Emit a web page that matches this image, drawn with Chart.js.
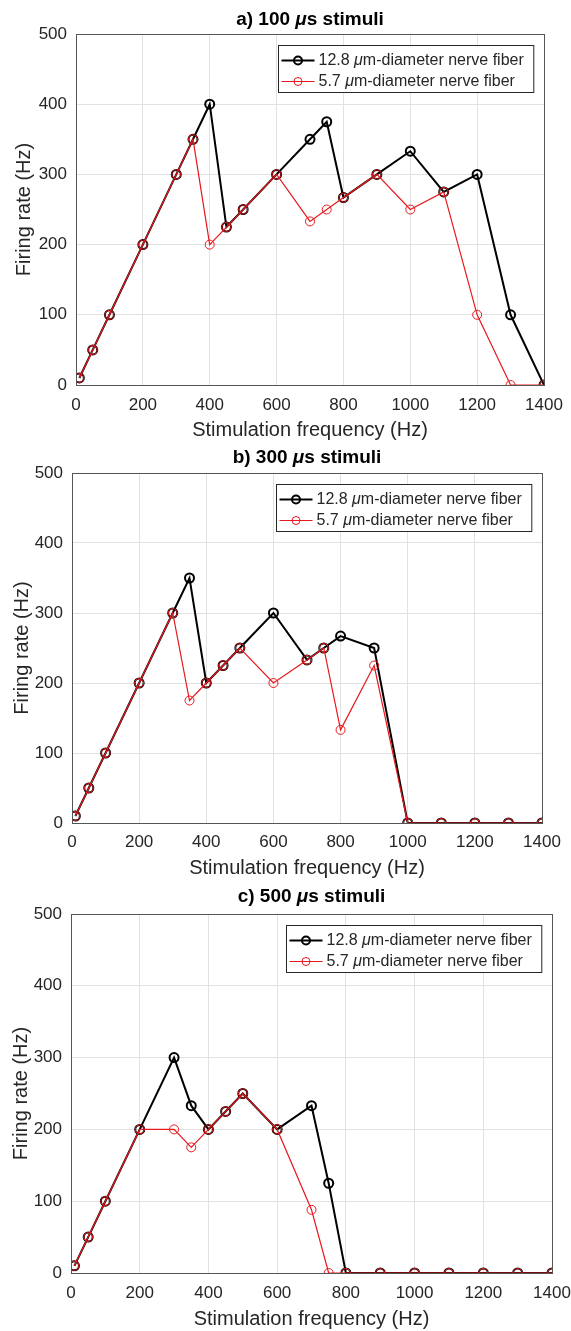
<!DOCTYPE html>
<html>
<head>
<meta charset="utf-8">
<script src="https://cdn.jsdelivr.net/npm/chart.js@4.4.1/dist/chart.umd.min.js"></script>
<style>
  body { margin: 0; background: #fff; width: 571px; height: 1331px; position: relative; overflow: hidden; }
  canvas { position: absolute; left: 0; }
</style>
</head>
<body>
<canvas id="chartA" width="571" height="445" style="top:0px"></canvas>
<canvas id="chartB" width="571" height="445" style="top:440px"></canvas>
<canvas id="chartC" width="571" height="451" style="top:880px"></canvas>
<script>
// Stimulation frequencies (Hz), shared by all three panels
const freqs = [10, 50, 100, 200, 300, 350, 400, 450, 500, 600, 700, 750, 800, 900, 1000, 1100, 1200, 1300, 1400];

// a) 100 us stimuli
const thickA = [10, 50, 100, 200, 300, 350, 400, 225, 250, 300, 350, 375, 267, 300, 333, 275, 300, 100, 0];
const thinA  = [10, 50, 100, 200, 300, 350, 200, 225, 250, 300, 233, 250, 267, 300, 250, 275, 100, 0, 0];

// b) 300 us stimuli
const thickB = [10, 50, 100, 200, 300, 350, 200, 225, 250, 300, 233, 250, 267, 250, 0, 0, 0, 0, 0];
const thinB  = [10, 50, 100, 200, 300, 175, 200, 225, 250, 200, 233, 250, 133, 225, 0, 0, 0, 0, 0];

// c) 500 us stimuli
const thickC = [10, 50, 100, 200, 300, 233, 200, 225, 250, 200, 233, 125, 0, 0, 0, 0, 0, 0, 0];
const thinC  = [10, 50, 100, 200, 200, 175, 200, 225, 250, 200, 88, 0, 0, 0, 0, 0, 0, 0, 0];

const xTicks = [0, 200, 400, 600, 800, 1000, 1200, 1400];
const yTicks = [0, 100, 200, 300, 400, 500];

const seriesNames = ['12.8 \u03bcm-diameter nerve fiber', '5.7 \u03bcm-diameter nerve fiber'];

const FONT = '"Liberation Sans", Arial, Helvetica, sans-serif';
const TEXT = '#262626';
const RED = '#e8191e';

// draws a string with the greek mu in italic, starting at x
function mixedText(ctx, str, x, y, base, italic) {
    const p = str.split('\u03bc');
    ctx.font = base;
    ctx.fillText(p[0], x, y);
    x += ctx.measureText(p[0]).width;
    ctx.font = italic;
    ctx.fillText('\u03bc', x, y);
    x += ctx.measureText('\u03bc').width;
    ctx.font = base;
    ctx.fillText(p[1], x, y);
}
function mixedWidth(ctx, str, base, italic) {
    const p = str.split('\u03bc');
    ctx.font = base;
    let w = ctx.measureText(p[0]).width + ctx.measureText(p[1]).width;
    ctx.font = italic;
    return w + ctx.measureText('\u03bc').width;
}

// title over the axes, box round the plot area, legend in the upper right
const boxAndLegend = {
    id: 'boxAndLegend',
    afterDraw(chart, args, opts) {
        const ctx = chart.ctx;
        const ca = chart.chartArea;
        ctx.save();

        // title centred on the plot area
        const tBase = 'bold 19px ' + FONT, tIt = 'italic bold 19px ' + FONT;
        const tw = mixedWidth(ctx, opts.title, tBase, tIt);
        ctx.fillStyle = '#000';
        ctx.textBaseline = 'middle';
        ctx.textAlign = 'left';
        mixedText(ctx, opts.title, (ca.left + ca.right) / 2 - tw / 2, opts.titleY, tBase, tIt);

        ctx.strokeStyle = '#555';
        ctx.lineWidth = 1;
        ctx.strokeRect(Math.round(ca.left) + 0.5, Math.round(ca.top) + 0.5,
                       Math.round(ca.right - ca.left), Math.round(ca.bottom - ca.top));

        // legend
        const lBase = '16px ' + FONT, lIt = 'italic 16px ' + FONT;
        const widths = seriesNames.map(s => mixedWidth(ctx, s, lBase, lIt));
        const w = 3 + 36 + 4 + Math.max(...widths) + 7;
        const h = 47;
        const x0 = Math.round(ca.right - 11 - w) + 0.5;
        const y0 = Math.round(ca.top + 11) + 0.5;
        ctx.fillStyle = '#fff';
        ctx.fillRect(x0, y0, w, h);
        ctx.strokeStyle = TEXT;
        ctx.strokeRect(x0, y0, w, h);

        const styles = [
            { color: '#000', lw: 2 },
            { color: RED, lw: 1 }
        ];
        [15, 36].forEach((dy, i) => {
            const y = y0 + dy;
            ctx.strokeStyle = styles[i].color;
            ctx.lineWidth = styles[i].lw;
            ctx.beginPath();
            ctx.moveTo(x0 + 3, y);
            ctx.lineTo(x0 + 36, y);
            ctx.stroke();
            ctx.beginPath();
            ctx.arc(x0 + 19.5, y, 4, 0, Math.PI * 2);
            ctx.stroke();

            ctx.fillStyle = TEXT;
            ctx.textBaseline = 'middle';
            ctx.textAlign = 'left';
            mixedText(ctx, seriesNames[i], x0 + 40, y, lBase, lIt);
        });
        ctx.restore();
    }
};

function makePanel(cfg) {
    const el = document.getElementById(cfg.id);
    const H = el.height;
    const tickSize = 17, tickLH = tickSize * 1.2;
    const axisSize = 20, axisLH = axisSize * 1.2;

    return new Chart(el, {
        type: 'line',
        data: {
            datasets: [
                {
                    label: seriesNames[0],
                    data: freqs.map((f, i) => ({ x: f, y: cfg.thick[i] })),
                    borderColor: '#000',
                    borderWidth: 2,
                    pointRadius: 4.5,
                    pointBorderWidth: 2,
                    pointBorderColor: '#000',
                    pointBackgroundColor: 'rgba(0,0,0,0)',
                    tension: 0,
                    order: 1
                },
                {
                    label: seriesNames[1],
                    data: freqs.map((f, i) => ({ x: f, y: cfg.thin[i] })),
                    borderColor: RED,
                    borderWidth: 1.2,
                    pointRadius: 4.5,
                    pointBorderWidth: 1,
                    pointBorderColor: RED,
                    pointBackgroundColor: 'rgba(0,0,0,0)',
                    tension: 0,
                    order: 0
                }
            ]
        },
        options: {
            responsive: false,
            animation: false,
            layout: { padding: { left: 0, top: cfg.top, bottom: 0, right: 571 - cfg.right } },
            plugins: {
                legend: { display: false },
                tooltip: { enabled: false },
                title: { display: false },
                boxAndLegend: { title: cfg.title, titleY: cfg.titleY }
            },
            scales: {
                x: {
                    type: 'linear',
                    min: 0,
                    max: 1400,
                    afterBuildTicks: s => { s.ticks = xTicks.map(v => ({ value: v })); },
                    afterFit: s => { s.height = H - cfg.bottom; s.paddingLeft = 0; s.paddingRight = 0; },
                    grid: { color: '#e1e1e1', drawTicks: false },
                    border: { display: false },
                    ticks: {
                        color: TEXT,
                        maxRotation: 0,
                        padding: cfg.tickY - cfg.bottom - tickLH / 2,
                        font: { family: FONT, size: tickSize, lineHeight: 1.2 },
                        callback: v => String(v)
                    },
                    title: {
                        display: true,
                        text: 'Stimulation frequency (Hz)',
                        color: TEXT,
                        font: { family: FONT, size: axisSize, lineHeight: 1.2 },
                        padding: { top: 0, bottom: Math.max(0, H - cfg.xTitleY - axisLH / 2) }
                    }
                },
                y: {
                    type: 'linear',
                    min: 0,
                    max: 500,
                    afterBuildTicks: s => { s.ticks = yTicks.map(v => ({ value: v })); },
                    afterFit: s => { s.width = cfg.left; s.paddingTop = 0; s.paddingBottom = 0; },
                    grid: { color: '#e1e1e1', drawTicks: false },
                    border: { display: false },
                    ticks: {
                        color: TEXT,
                        padding: 9,
                        font: { family: FONT, size: tickSize, lineHeight: 1.2 },
                        callback: v => String(v)
                    },
                    title: {
                        display: true,
                        text: 'Firing rate (Hz)',
                        color: TEXT,
                        font: { family: FONT, size: axisSize, lineHeight: 1.2 },
                        padding: { top: cfg.yTitleX - axisLH / 2, bottom: 0 }
                    }
                }
            }
        },
        plugins: [boxAndLegend]
    });
}

window.addEventListener('DOMContentLoaded', () => {
    makePanel({ id: 'chartA', title: 'a) 100 \u03bcs stimuli', thick: thickA, thin: thinA,
        top: 34, bottom: 385, left: 76, right: 544, titleY: 20, tickY: 405, xTitleY: 430, yTitleX: 24 });
    makePanel({ id: 'chartB', title: 'b) 300 \u03bcs stimuli', thick: thickB, thin: thinB,
        top: 33, bottom: 383, left: 72, right: 542, titleY: 18, tickY: 402, xTitleY: 428, yTitleX: 22 });
    makePanel({ id: 'chartC', title: 'c) 500 \u03bcs stimuli', thick: thickC, thin: thinC,
        top: 34, bottom: 393, left: 71, right: 552, titleY: 17, tickY: 413, xTitleY: 440, yTitleX: 21 });
});
</script>
</body>
</html>
